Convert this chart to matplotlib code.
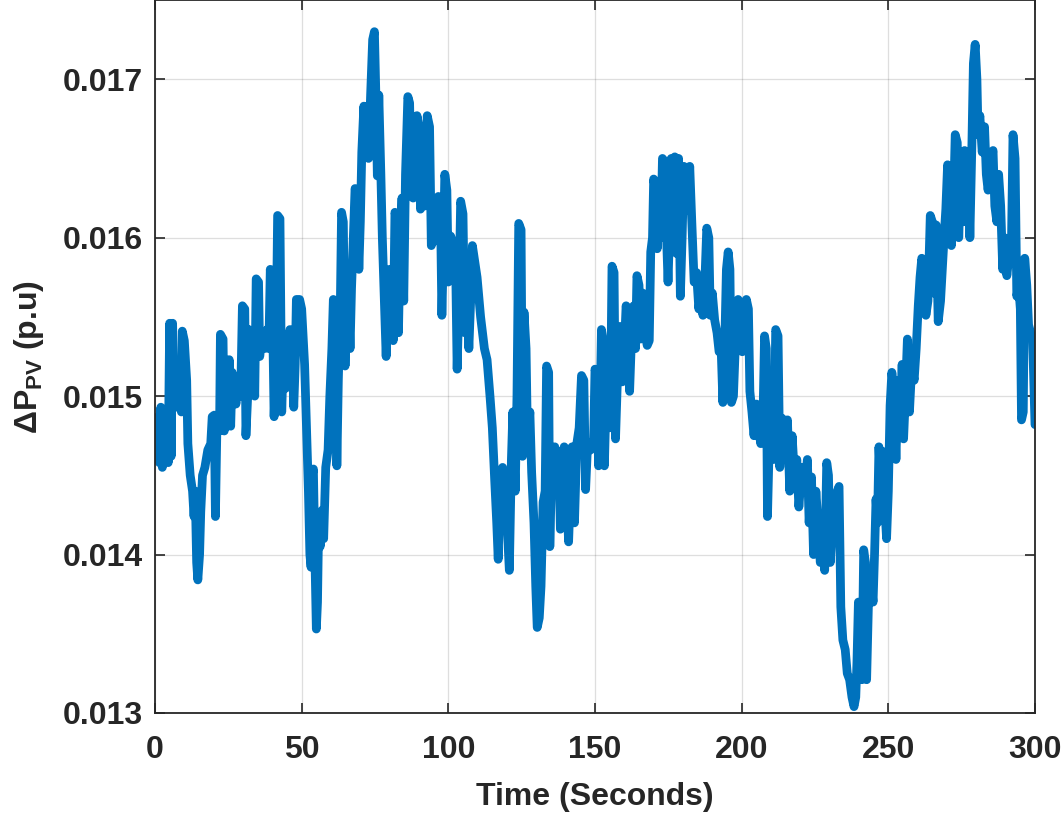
import matplotlib
matplotlib.use("Agg")
import matplotlib.pyplot as plt
from matplotlib.ticker import FormatStrFormatter

time_s = [
    0, 0.5, 1.0, 1.5, 2.0, 2.5, 3.0, 3.5, 4.0, 4.5, 5.0, 5.5, 6.0, 6.5, 7.5, 8.5, 9.0, 9.3, 10.0, 10.8,
    11.2, 12.0, 12.8, 13.3, 13.7, 14.2, 14.6, 15.2, 15.6, 16.2, 17.0, 18.0, 19.0, 19.5, 20.2, 20.6, 21.1,
    22.0, 22.3, 23.2, 23.6, 24.2, 24.8, 25.3, 25.8, 26.3, 27.0, 27.6, 28.3, 29.2, 29.8, 30.6, 31.0, 31.6,
    32.0, 32.8, 33.5, 34.0, 34.5, 35.3, 35.7, 36.5, 37.3, 38.2, 38.8, 39.3, 40.0, 40.6, 41.2, 41.8, 42.6,
    43.2, 43.8, 44.6, 45.3, 46.0, 46.8, 47.3, 47.8, 48.2, 49.3, 50.0, 51.0, 51.8, 52.3, 52.8, 53.2, 53.6,
    54.0, 54.5, 55.0, 55.4, 55.8, 56.3, 57.0, 57.5, 58.2, 59.0, 59.6, 60.3, 60.8, 61.5, 62.0, 62.5, 63.2,
    63.6, 64.2, 64.8, 65.3, 65.8, 66.5, 67.0, 67.6, 68.2, 69.0, 69.5, 70.0, 70.5, 71.2, 71.8, 72.3, 72.8,
    73.5, 74.2, 74.8, 75.3, 75.8, 76.3, 77.0, 77.5, 78.2, 78.8, 79.3, 80.0, 80.6, 81.2, 81.8, 82.5, 83.0,
    83.6, 84.2, 84.8, 85.4, 86.2, 86.8, 87.3, 88.0, 88.6, 89.3, 90.0, 90.5, 91.3, 92.0, 92.8, 93.6, 94.2,
    95.0, 96.0, 96.6, 97.3, 97.8, 98.3, 98.8, 99.5, 100.0, 100.8, 101.8, 102.5, 103.0, 103.6, 104.2, 105.0,
    105.6, 106.3, 107.0, 107.6, 108.2, 109.0, 109.8, 111.0, 112.3, 113.2, 114.2, 115.0, 115.8, 116.5,
    117.0, 117.6, 118.5, 119.2, 120.0, 120.8, 121.5, 122.0, 122.8, 123.4, 124.0, 124.8, 125.3, 125.8,
    126.5, 127.0, 127.8, 128.4, 129.2, 129.8, 130.3, 131.0, 131.6, 132.3, 133.0, 133.5, 134.2, 134.6,
    135.3, 136.3, 137.0, 137.6, 138.2, 138.8, 139.5, 140.3, 141.0, 141.6, 142.2, 143.0, 143.8, 144.6,
    145.4, 146.2, 146.8, 147.5, 148.5, 149.5, 150.0, 150.8, 151.2, 151.7, 152.2, 152.8, 153.2, 153.8,
    154.5, 155.2, 155.8, 156.5, 157.0, 157.8, 158.5, 159.3, 160.0, 160.6, 161.3, 161.8, 162.5, 163.2,
    163.8, 164.3, 165.0, 165.5, 166.3, 167.0, 167.8, 168.5, 169.0, 169.6, 170.0, 170.6, 171.2, 171.8,
    172.4, 173.0, 173.8, 174.4, 174.9, 175.5, 176.0, 176.7, 177.2, 177.8, 178.5, 179.1, 179.7, 180.3,
    181.0, 181.6, 182.3, 183.0, 183.8, 184.6, 185.4, 186.2, 186.8, 187.6, 188.1, 188.8, 189.3, 190.0,
    190.8, 191.6, 192.3, 193.0, 193.6, 194.2, 194.8, 195.4, 196.0, 196.5, 197.2, 198.0, 198.8, 199.5,
    200.2, 201.0, 201.6, 202.3, 202.8, 203.5, 204.2, 205.0, 205.7, 206.5, 207.3, 207.8, 208.4, 208.8,
    209.4, 210.3, 211.0, 211.6, 212.4, 213.0, 213.8, 214.8, 215.6, 216.4, 217.2, 218.0, 218.8, 219.5,
    220.5, 221.5, 222.4, 223.0, 223.8, 224.5, 225.3, 226.0, 226.8, 227.6, 228.3, 229.0, 229.6, 230.2,
    231.0, 232.0, 232.6, 233.2, 233.8, 234.5, 235.3, 236.0, 236.8, 237.6, 238.3, 238.9, 239.3, 239.8,
    240.5, 241.0, 241.6, 242.2, 242.6, 243.3, 244.0, 244.8, 245.3, 245.8, 246.3, 246.8, 247.5, 248.2,
    248.8, 249.4, 250.0, 250.6, 251.2, 252.0, 252.6, 253.3, 254.0, 254.7, 255.2, 255.8, 256.5, 257.2,
    258.0, 258.8, 259.5, 260.2, 260.8, 261.4, 262.2, 262.8, 263.5, 264.3, 265.0, 265.5, 266.3, 267.0,
    267.8, 268.4, 269.0, 269.6, 270.2, 270.8, 271.5, 272.2, 272.8, 273.5, 274.0, 274.7, 275.3, 276.0,
    276.6, 277.3, 277.8, 278.5, 279.0, 279.6, 280.2, 280.6, 281.2, 282.0, 282.8, 283.4, 284.0, 285.0,
    285.7, 286.3, 287.0, 287.6, 288.3, 289.0, 289.6, 290.4, 291.2, 292.0, 292.5, 293.2, 293.8, 294.4,
    295.0, 295.4, 296.0, 296.5, 297.2, 297.8, 298.5, 299.2, 300.0,
]

delta_p_pv = [
    0.01480, 0.01465, 0.01487, 0.01458, 0.01493, 0.01455, 0.01490, 0.01460, 0.01492, 0.01458, 0.01546,
    0.01462, 0.01546, 0.01500, 0.01493, 0.01496, 0.01490, 0.01541, 0.01535, 0.01510, 0.01470, 0.01450,
    0.01440, 0.01424, 0.01440, 0.01395, 0.01384, 0.01400, 0.01427, 0.01450, 0.01455, 0.01466, 0.01470,
    0.01487, 0.01488, 0.01424, 0.01480, 0.01478, 0.01539, 0.01536, 0.01478, 0.01485, 0.01490, 0.01523,
    0.01481, 0.01515, 0.01505, 0.01495, 0.01512, 0.01500, 0.01557, 0.01555, 0.01475, 0.01500, 0.01542,
    0.01510, 0.01528, 0.01500, 0.01574, 0.01572, 0.01525, 0.01540, 0.01530, 0.01542, 0.01530, 0.01580,
    0.01560, 0.01487, 0.01520, 0.01614, 0.01612, 0.01490, 0.01528, 0.01505, 0.01510, 0.01542, 0.01530,
    0.01493, 0.01520, 0.01561, 0.01561, 0.01555, 0.01520, 0.01470, 0.01440, 0.01400, 0.01392, 0.01450,
    0.01454, 0.01400, 0.01353, 0.01370, 0.01420, 0.01405, 0.01428, 0.01410, 0.01455, 0.01466, 0.01500,
    0.01530, 0.01561, 0.01555, 0.01456, 0.01510, 0.01560, 0.01616, 0.01610, 0.01519, 0.01560, 0.01575,
    0.01530, 0.01568, 0.01600, 0.01631, 0.01625, 0.01580, 0.01610, 0.01654, 0.01683, 0.01656, 0.01683,
    0.01650, 0.01690, 0.01725, 0.01730, 0.01690, 0.01639, 0.01690, 0.01640, 0.01600, 0.01560, 0.01525,
    0.01560, 0.01580, 0.01570, 0.01535, 0.01616, 0.01610, 0.01540, 0.01600, 0.01625, 0.01560, 0.01640,
    0.01689, 0.01685, 0.01635, 0.01625, 0.01640, 0.01677, 0.01670, 0.01618, 0.01635, 0.01620, 0.01677,
    0.01670, 0.01595, 0.01600, 0.01598, 0.01626, 0.01620, 0.01551, 0.01590, 0.01640, 0.01630, 0.01572,
    0.01601, 0.01595, 0.01582, 0.01517, 0.01560, 0.01623, 0.01615, 0.01540, 0.01568, 0.01530, 0.01560,
    0.01595, 0.01585, 0.01575, 0.01550, 0.01530, 0.01523, 0.01500, 0.01480, 0.01447, 0.01420, 0.01397,
    0.01440, 0.01455, 0.01445, 0.01420, 0.01390, 0.01460, 0.01490, 0.01440, 0.01500, 0.01609, 0.01605,
    0.01462, 0.01553, 0.01530, 0.01470, 0.01490, 0.01452, 0.01420, 0.01380, 0.01354, 0.01360, 0.01380,
    0.01433, 0.01440, 0.01519, 0.01515, 0.01405, 0.01460, 0.01468, 0.01454, 0.01465, 0.01416, 0.01440,
    0.01468, 0.01440, 0.01408, 0.01440, 0.01468, 0.01420, 0.01470, 0.01480, 0.01513, 0.01510, 0.01441,
    0.01471, 0.01466, 0.01470, 0.01517, 0.01510, 0.01456, 0.01490, 0.01542, 0.01535, 0.01456, 0.01500,
    0.01528, 0.01480, 0.01582, 0.01578, 0.01473, 0.01520, 0.01544, 0.01509, 0.01530, 0.01557, 0.01550,
    0.01503, 0.01540, 0.01557, 0.01530, 0.01576, 0.01570, 0.01536, 0.01565, 0.01540, 0.01532, 0.01535,
    0.01591, 0.01600, 0.01637, 0.01630, 0.01593, 0.01635, 0.01600, 0.01650, 0.01648, 0.01600, 0.01572,
    0.01610, 0.01650, 0.01600, 0.01651, 0.01590, 0.01650, 0.01563, 0.01600, 0.01645, 0.01640, 0.01617,
    0.01645, 0.01610, 0.01572, 0.01578, 0.01555, 0.01570, 0.01551, 0.01580, 0.01606, 0.01600, 0.01551,
    0.01565, 0.01548, 0.01540, 0.01528, 0.01530, 0.01496, 0.01530, 0.01580, 0.01591, 0.01580, 0.01496,
    0.01500, 0.01540, 0.01561, 0.01530, 0.01528, 0.01545, 0.01561, 0.01555, 0.01503, 0.01490, 0.01475,
    0.01495, 0.01480, 0.01470, 0.01490, 0.01538, 0.01530, 0.01424, 0.01470, 0.01475, 0.01460, 0.01542,
    0.01538, 0.01455, 0.01486, 0.01470, 0.01485, 0.01440, 0.01475, 0.01450, 0.01460, 0.01430, 0.01455,
    0.01443, 0.01460, 0.01420, 0.01449, 0.01400, 0.01440, 0.01420, 0.01395, 0.01414, 0.01390, 0.01458,
    0.01450, 0.01395, 0.01420, 0.01410, 0.01440, 0.01443, 0.01367, 0.01346, 0.01340, 0.01325, 0.01321,
    0.01310, 0.01304, 0.01310, 0.01332, 0.01370, 0.01340, 0.01321, 0.01403, 0.01395, 0.01321, 0.01375,
    0.01385, 0.01370, 0.01400, 0.01435, 0.01420, 0.01468, 0.01440, 0.01465, 0.01430, 0.01410, 0.01440,
    0.01494, 0.01515, 0.01500, 0.01460, 0.01510, 0.01475, 0.01520, 0.01473, 0.01500, 0.01536, 0.01490,
    0.01520, 0.01510, 0.01530, 0.01557, 0.01575, 0.01587, 0.01580, 0.01551, 0.01560, 0.01614, 0.01610,
    0.01565, 0.01608, 0.01547, 0.01560, 0.01580, 0.01600, 0.01618, 0.01646, 0.01620, 0.01595, 0.01620,
    0.01665, 0.01660, 0.01600, 0.01640, 0.01610, 0.01655, 0.01610, 0.01650, 0.01600, 0.01660, 0.01710,
    0.01722, 0.01700, 0.01665, 0.01677, 0.01654, 0.01670, 0.01640, 0.01630, 0.01650, 0.01655, 0.01620,
    0.01610, 0.01640, 0.01620, 0.01580, 0.01600, 0.01576, 0.01590, 0.01600, 0.01665, 0.01650, 0.01563,
    0.01570, 0.01555, 0.01485, 0.01490, 0.01587, 0.01570, 0.01545, 0.01540, 0.01535, 0.01482,
]

x_ticks = [0, 50, 100, 150, 200, 250, 300]
y_ticks = [0.013, 0.014, 0.015, 0.016, 0.017]
x_label = "Time (Seconds)"
y_label = r"$\mathbf{\Delta P_{PV}}$ (p.u)"

text_color = "#262626"
line_color = "#0072BD"

plt.rcParams["font.family"] = ["Liberation Sans", "DejaVu Sans"]
plt.rcParams["font.weight"] = "bold"
plt.rcParams["mathtext.fontset"] = "custom"
plt.rcParams["mathtext.bf"] = "Liberation Sans:bold"
plt.rcParams["mathtext.rm"] = "Liberation Sans:bold"

fig = plt.figure(figsize=(10.62, 8.15), dpi=100)
ax = fig.add_axes([155 / 1062, 102 / 815, 880 / 1062, 713 / 815])

ax.plot(time_s, delta_p_pv, color=line_color, lw=6.3,
        solid_joinstyle="round", solid_capstyle="round")

ax.set_xlim(0, 300)
ax.set_ylim(0.013, 0.0175)
ax.set_xticks(x_ticks)
ax.set_yticks(y_ticks)
ax.yaxis.set_major_formatter(FormatStrFormatter("%.3f"))

ax.grid(True, color="#262626", alpha=0.15, lw=0.9)
ax.set_axisbelow(True)

ax.tick_params(direction="in", length=7, width=1.2, top=True, right=True,
               colors=text_color, labelsize=23)
ax.tick_params(axis="y", pad=9)
ax.tick_params(axis="x", pad=16)
for lab in ax.get_xticklabels() + ax.get_yticklabels():
    lab.set_fontweight("bold")
for sp in ax.spines.values():
    sp.set_color(text_color)
    sp.set_linewidth(1.3)

ax.set_xlabel(x_label, fontsize=23, fontweight="bold", color=text_color, labelpad=12)
ax.set_ylabel(y_label, fontsize=23, fontweight="bold", color=text_color, labelpad=12)

fig.savefig("out.png", dpi=100)
